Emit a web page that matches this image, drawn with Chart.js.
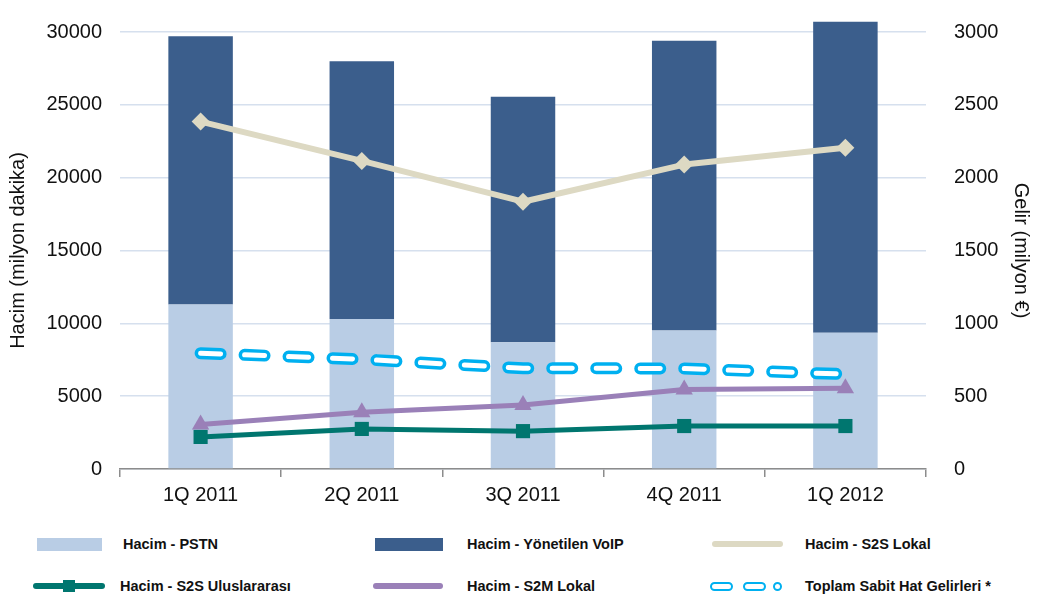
<!DOCTYPE html>
<html>
<head>
<meta charset="utf-8">
<script src="https://cdn.jsdelivr.net/npm/chart.js@4"></script>
<style>
  html, body { margin: 0; padding: 0; background: #fff; }
  #wrap { position: relative; width: 1037px; height: 598px; font-family: "Liberation Sans", Arial, sans-serif; }
  #chart { position: absolute; left: 0; top: 0; }
  .lg { position: absolute; font-weight: bold; font-size: 14.5px; color: #111; line-height: 18px; white-space: nowrap; }
  .sw { position: absolute; }
</style>
</head>
<body>
<div id="wrap">
  <canvas id="chart" width="1037" height="522"></canvas>

  <!-- legend, row 1 -->
  <div class="sw" style="left:37px;top:538px;width:65px;height:13px;background:#B9CDE5"></div>
  <div class="lg" style="left:123px;top:535px">Hacim - PSTN</div>
  <div class="sw" style="left:375px;top:538px;width:68px;height:13px;background:#3B5E8C"></div>
  <div class="lg" style="left:467px;top:535px">Hacim - Yönetilen VoIP</div>
  <div class="sw" style="left:712px;top:541px;width:71px;height:6px;border-radius:3px;background:#DDD9C3"></div>
  <div class="lg" style="left:805px;top:535px">Hacim - S2S Lokal</div>

  <!-- legend, row 2 -->
  <div class="sw" style="left:33px;top:583px;width:72px;height:6px;border-radius:3px;background:#00766F"></div>
  <div class="sw" style="left:63px;top:580px;width:12px;height:12px;background:#00766F"></div>
  <div class="lg" style="left:120px;top:577px">Hacim - S2S Uluslararası</div>
  <div class="sw" style="left:373px;top:583px;width:70px;height:6px;border-radius:3px;background:#9A80B8"></div>
  <div class="lg" style="left:467px;top:577px">Hacim - S2M Lokal</div>
  <div class="sw" style="left:710px;top:582px;width:23px;height:9px;border:2.5px solid #00B0F0;border-radius:5px;box-sizing:border-box;background:#fff"></div>
  <div class="sw" style="left:743px;top:582px;width:23px;height:9px;border:2.5px solid #00B0F0;border-radius:5px;box-sizing:border-box;background:#fff"></div>
  <div class="sw" style="left:773px;top:582px;width:9px;height:9px;border:2.5px solid #00B0F0;border-radius:50%;box-sizing:border-box;background:#fff"></div>
  <div class="lg" style="left:805px;top:577px">Toplam Sabit Hat Gelirleri *</div>
</div>

<script>
// values
const quarters = ['1Q 2011', '2Q 2011', '3Q 2011', '4Q 2011', '1Q 2012'];
const hacimPstn = [11300, 10300, 8700, 9500, 9350];
const hacimVoip = [18400, 17700, 16850, 19900, 21350];
const hacimS2sLokal = [23850, 21150, 18350, 20900, 22050];
const hacimS2sUluslararasi = [2200, 2750, 2600, 2950, 2950];
const hacimS2mLokal = [3050, 3900, 4400, 5450, 5550];
const sabitHatGelir = [795, 753, 692, 690, 651];

const HACIM_MAX = 30000, HACIM_STEP = 5000;
const GELIR_MAX = 3000, GELIR_STEP = 500;

const TEXT = '#111';
const GRID = '#D6E0EE';
const AXIS = '#8C8C8C';

// the revenue line is drawn as an outlined dash: stroke it again, thinner and white
const innerDash = {
  id: 'innerDash',
  afterDatasetDraw(chart, args) {
    const ds = chart.data.datasets[args.index];
    if (!ds.innerColor) return;
    const pts = args.meta.data;
    const ctx = chart.ctx;
    ctx.save();
    ctx.beginPath();
    pts.forEach((p, i) => (i ? ctx.lineTo(p.x, p.y) : ctx.moveTo(p.x, p.y)));
    ctx.setLineDash(ds.borderDash);
    ctx.lineCap = 'round';
    ctx.lineJoin = 'round';
    ctx.lineWidth = ds.innerWidth;
    ctx.strokeStyle = ds.innerColor;
    ctx.stroke();
    ctx.restore();
  },
};

function lineSet(label, data, color, style, radius, width) {
  return {
    type: 'line', label, data, yAxisID: 'y', order: 1,
    borderColor: color, backgroundColor: color, borderWidth: width,
    pointStyle: style, pointRadius: radius, pointBorderWidth: 0,
    tension: 0, borderCapStyle: 'round', borderJoinStyle: 'round',
  };
}

const plainNumber = (v) => String(v);

new Chart(document.getElementById('chart'), {
  data: {
    labels: quarters,
    datasets: [
      { type: 'bar', label: 'Hacim - PSTN', data: hacimPstn, stack: 'hacim', yAxisID: 'y', order: 10,
        backgroundColor: '#B9CDE5', categoryPercentage: 1, barPercentage: 0.4 },
      { type: 'bar', label: 'Hacim - Yönetilen VoIP', data: hacimVoip, stack: 'hacim', yAxisID: 'y', order: 10,
        backgroundColor: '#3B5E8C', categoryPercentage: 1, barPercentage: 0.4, clip: false },
      lineSet('Hacim - S2S Lokal', hacimS2sLokal, '#DDD9C3', 'rectRot', 9, 6),
      lineSet('Hacim - S2S Uluslararası', hacimS2sUluslararasi, '#00766F', 'rect', 10, 5),
      lineSet('Hacim - S2M Lokal', hacimS2mLokal, '#9A80B8', 'triangle', 10, 5),
      { type: 'line', label: 'Toplam Sabit Hat Gelirleri *', data: sabitHatGelir, yAxisID: 'y1', order: 0,
        borderColor: '#00B0F0', borderWidth: 12, borderDash: [20, 24], borderCapStyle: 'round',
        pointRadius: 0, tension: 0, fill: false, innerColor: '#fff', innerWidth: 5 },
    ],
  },
  options: {
    responsive: false,
    animation: false,
    layout: { padding: { top: 30, left: 0, right: 0, bottom: 0 } },
    plugins: { legend: { display: false }, tooltip: { enabled: false } },
    scales: {
      x: {
        offset: true,
        grid: { drawOnChartArea: false, drawTicks: true, tickLength: 8, color: AXIS, lineWidth: 1.5, offset: true },
        border: { display: true, color: AXIS, width: 1.5 },
        ticks: { color: TEXT, font: { size: 20 }, padding: 6, maxRotation: 0 },
        afterFit(s) { s.height = 522 - 469; },
      },
      y: {
        position: 'left', min: 0, max: HACIM_MAX,
        ticks: { stepSize: HACIM_STEP, color: TEXT, font: { size: 20 }, padding: 18, callback: plainNumber },
        grid: { color: GRID, lineWidth: 1.5, drawTicks: false },
        border: { display: false },
        title: { display: true, text: 'Hacim (milyon dakika)', color: TEXT, font: { size: 20 }, padding: { top: 6, bottom: 4 } },
        afterFit(s) { s.width = 120; },
      },
      y1: {
        position: 'right', min: 0, max: GELIR_MAX,
        ticks: { stepSize: GELIR_STEP, color: TEXT, font: { size: 20 }, padding: 20, callback: plainNumber },
        grid: { display: false },
        border: { display: false },
        title: { display: true, text: 'Gelir (milyon €)', color: TEXT, font: { size: 20 }, padding: { top: 4, bottom: 4 } },
        afterFit(s) { s.width = 1037 - 926; },
      },
    },
  },
  plugins: [innerDash],
});
</script>
</body>
</html>
